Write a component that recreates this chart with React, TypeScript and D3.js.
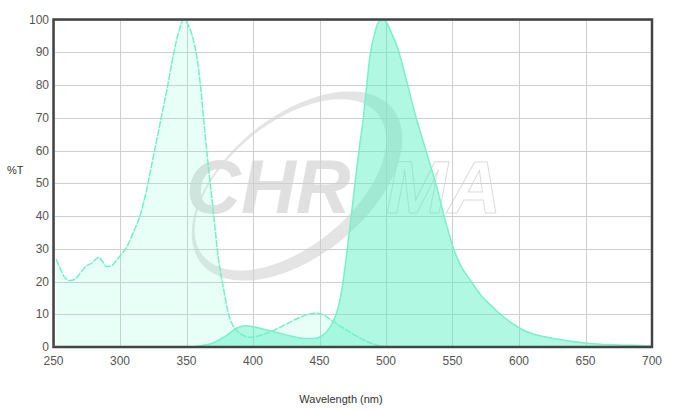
import React from "react";
import * as d3 from "d3";

const excitationWl = [252,255,258,262,266,270,274,279,284,287,290,293,296,300,305,310,315,320,325,330,335,340,344,348,351,355,358,361,364,367,370,374,378,381,385,390,398,405,415,425,435,442,448,453,458,465,472,478,485,492,500,505];
const excitationT = [26.8,24,21.5,20.3,20.7,22.5,24.5,25.7,27.4,26,24.6,24.7,25.8,27.8,30.5,35,40,48,58,68,78,89,96,100,98.5,94,88,78,65,53,42,27,17.5,11,6.5,4.2,3,3.5,5,7,9,10,10.3,9.8,8.5,6.5,4.8,3.3,1.8,0.7,0.1,0];

const emissionWl = [352,360,370,380,388,394,400,410,420,430,440,446,452,456,460,464,467,470,473,477,480,483,485,488,491,494,497,500,504,509,515,522,530,538,545,550,556,564,572,580,586,595,603,612,626,640,653,670,685,700];
const emissionT = [0,0.3,1.2,3.5,5.8,6.5,6.2,5.2,4.2,3.2,2.6,2.6,3.5,5,7.5,12,18,27,37,51,61,70,78,89,95,99,100,99.3,96,91,82,71,60,49,38,31,25,20,15.5,12.3,10,7.2,5.2,3.8,2.6,1.7,1.1,0.7,0.5,0.3];

const xTicks = [250,300,350,400,450,500,550,600,650,700];
const yTicks = [0,10,20,30,40,50,60,70,80,90,100];

const W = 679, H = 411;
const M = { left: 53.5, right: 652, top: 19.5, bottom: 347 };

export default function App() {
  const x = d3.scaleLinear().domain([250, 700]).range([M.left, M.right]);
  const y = d3.scaleLinear().domain([0, 100]).range([M.bottom, M.top]);

  const exData = excitationWl.map((w, i) => [w, excitationT[i]] as [number, number]);
  const emData = emissionWl.map((w, i) => [w, emissionT[i]] as [number, number]);

  const area = d3.area<[number, number]>()
    .x(d => x(d[0])).y0(y(0)).y1(d => y(d[1]))
    .curve(d3.curveMonotoneX);
  const line = d3.line<[number, number]>()
    .x(d => x(d[0])).y(d => y(d[1]))
    .curve(d3.curveMonotoneX);

  const font = "'Liberation Sans', Arial, sans-serif";

  const ellipsePath = (cx: number, cy: number, rx: number, ry: number, rot: number) => {
    const p = d3.path();
    const n = 120;
    const r = (rot * Math.PI) / 180;
    for (let i = 0; i <= n; i++) {
      const t = (i / n) * Math.PI * 2;
      const ex = rx * Math.cos(t), ey = ry * Math.sin(t);
      const px = cx + ex * Math.cos(r) - ey * Math.sin(r);
      const py = cy + ex * Math.sin(r) + ey * Math.cos(r);
      if (i === 0) p.moveTo(px, py); else p.lineTo(px, py);
    }
    p.closePath();
    return p.toString();
  };
  const ringD = ellipsePath(297, 186, 123, 70, -39) + ellipsePath(290.4, 184.9, 112.5, 62, -39);

  return (
    <svg width={W} height={H} style={{ position: "absolute", left: 0, top: 0, background: "#fff" }}>
      <g>
        <path d={ringD} fill="#e4e4e4" fillRule="evenodd" />
        <text x={186} y={213} fontFamily={font} fontWeight="bold" fontStyle="italic" fontSize={76} fill="#e0e0e0">CHR</text>
        <text x={386} y={213} fontFamily={font} fontWeight="bold" fontStyle="italic" fontSize={74} fill="none" stroke="#dcdcdc" strokeWidth={1}>MA</text>
      </g>
      <g stroke="#cfcfcf" strokeWidth={1}>
        {yTicks.map(t => (
          <line key={"gy" + t} x1={M.left} x2={M.right} y1={Math.round(y(t)) + 0.5} y2={Math.round(y(t)) + 0.5} />
        ))}
        {xTicks.map(t => (
          <line key={"gx" + t} x1={Math.round(x(t)) + 0.5} x2={Math.round(x(t)) + 0.5} y1={M.top} y2={M.bottom} />
        ))}
      </g>
      <path d={area(exData) || ""} fill="rgb(127,255,212)" fillOpacity={0.18} />
      <path d={area(emData) || ""} fill="rgb(80,240,190)" fillOpacity={0.45} />
      <path d={line(exData) || ""} fill="none" stroke="#72f0c9" strokeWidth={1.5} strokeDasharray="7,1.2" />
      <path d={line(emData) || ""} fill="none" stroke="#78f0ca" strokeWidth={1.5} />
      <rect x={M.left} y={M.top} width={M.right - M.left} height={M.bottom - M.top} fill="none" stroke="#444" strokeWidth={2.5} />
      <g fontFamily={font} fontSize={12} fill="#555">
        {yTicks.map(t => (
          <text key={"ly" + t} x={49} y={y(t) + 4} textAnchor="end">{t}</text>
        ))}
        {xTicks.map(t => (
          <text key={"lx" + t} x={x(t)} y={365} textAnchor="middle">{t}</text>
        ))}
      </g>
      <text x={7} y={174} fontFamily={font} fontSize={11} fill="#333">%T</text>
      <text x={341} y={403} fontFamily={font} fontSize={11} fill="#333" textAnchor="middle">Wavelength (nm)</text>
    </svg>
  );
}
